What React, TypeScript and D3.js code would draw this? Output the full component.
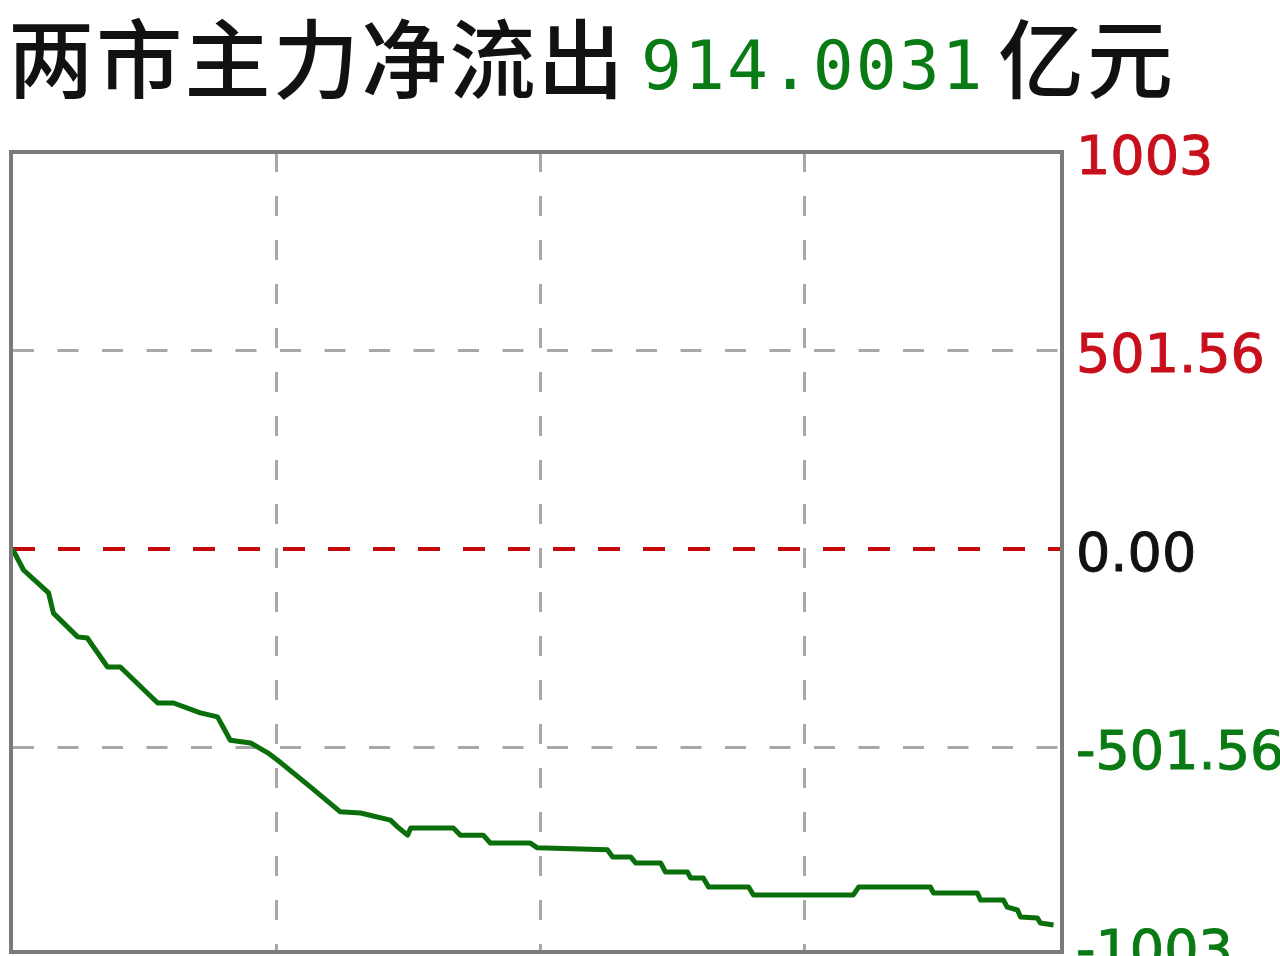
import React from "react";
import * as d3 from "d3";

const titleText = "两市主力净流出";
const titleValue = "914.0031";
const titleUnit = "亿元";

const yTicks = [1003, 501.56, 0, -501.56, -1003];
const yTickLabels = ["1003", "501.56", "0.00", "-501.56", "-1003"];
const xGridMinutes = [60, 120, 180];

const minutes = [0, 2.5, 8.2, 9.3, 14.8, 17.0, 21.6, 24.5, 33.0, 36.6, 42.7, 46.6, 49.5, 54.1, 58.0, 60.2, 67.7, 74.5, 79.1, 85.9, 87.5, 89.8, 90.5, 100.2, 101.8, 107.0, 108.6, 117.7, 119.3, 135.2, 136.4, 140.5, 141.6, 147.3, 148.4, 153.4, 154.1, 157.0, 158.2, 167.3, 168.4, 191.1, 192.3, 208.6, 209.3, 219.3, 220.0, 225.2, 226.1, 228.4, 229.1, 232.9, 233.6, 236.6];
const flows = [0, -53, -111, -162, -222, -225, -298, -298, -389, -389, -414, -424, -483, -490, -515, -533, -601, -664, -667, -685, -702, -723, -705, -705, -723, -723, -743, -743, -755, -760, -778, -778, -793, -793, -816, -816, -831, -831, -854, -854, -874, -874, -854, -854, -869, -869, -887, -887, -905, -912, -930, -932, -945, -950];

const W = 1280;
const H = 956;

export default function App() {
  const x = d3.scaleLinear().domain([0, 240]).range([12.5, 1068.5]);
  const y = d3.scaleLinear().domain([-1003, 1003]).range([946, 152]);
  const pts: [number, number][] = minutes.map((m, i) => [m, flows[i]]);
  const line = d3
    .line<[number, number]>()
    .x((d) => x(d[0]))
    .y((d) => y(d[1]))
    .curve(d3.curveLinear);

  const labelColor = (v: number) => (v > 0 ? "#c8101c" : v < 0 ? "#0a7a14" : "#111111");
  const frame = { x0: 11, y0: 152, x1: 1062, y1: 952 };

  return (
    <svg
      width={W}
      height={H}
      style={{ position: "absolute", left: 0, top: 0, background: "#ffffff" }}
    >
      <rect x={0} y={0} width={W} height={H} fill="#ffffff" />
      {/* title */}
      <text
        x={8}
        y={92}
        fontFamily="'Noto Sans CJK SC'"
        fontSize={86}
        fontWeight={500}
        fill="#111111"
        letterSpacing={2.3}
      >
        {titleText}
      </text>
      <text
        x={641}
        y={89}
        fontFamily="'DejaVu Sans Mono'"
        fontSize={68}
        fill="#0a7a14"
        letterSpacing={2}
      >
        {titleValue}
      </text>
      <text
        x={998}
        y={92}
        fontFamily="'Noto Sans CJK SC'"
        fontSize={86}
        fontWeight={500}
        fill="#111111"
        letterSpacing={3}
      >
        {titleUnit}
      </text>

      {/* vertical grid */}
      {xGridMinutes.map((m) => (
        <line
          key={"vx" + m}
          x1={x(m)}
          x2={x(m)}
          y1={frame.y0}
          y2={frame.y1}
          stroke="#a8a8a8"
          strokeWidth={3}
          strokeDasharray="20 24"
        />
      ))}
      {/* horizontal grid */}
      {yTicks
        .filter((v) => Math.abs(v) > 0 && Math.abs(v) < 1003)
        .map((v) => (
          <line
            key={"hy" + v}
            x1={frame.x0 + 2}
            x2={frame.x1}
            y1={y(v)}
            y2={y(v)}
            stroke="#a8a8a8"
            strokeWidth={3}
            strokeDasharray="21 23.5"
          />
        ))}
      {/* zero line */}
      <line
        x1={frame.x0 + 2}
        x2={frame.x1}
        y1={y(0)}
        y2={y(0)}
        stroke="#c40a0a"
        strokeWidth={4}
        strokeDasharray="22 23"
      />

      {/* flow line */}
      <path d={line(pts) || ""} fill="none" stroke="#0a6e0a" strokeWidth={5} strokeLinejoin="round" />

      {/* frame */}
      <rect
        x={frame.x0}
        y={frame.y0}
        width={frame.x1 - frame.x0}
        height={frame.y1 - frame.y0}
        fill="none"
        stroke="#7a7a7a"
        strokeWidth={4}
      />

      {/* right labels */}
      {yTicks.map((v, i) => (
        <text
          key={"lbl" + v}
          x={1076}
          y={y(v) + 3}
          dominantBaseline="central"
          fontFamily="'DejaVu Sans'"
          fontSize={54}
          fill={labelColor(v)}
          stroke={labelColor(v)}
          strokeWidth={1}
        >
          {yTickLabels[i]}
        </text>
      ))}
    </svg>
  );
}
